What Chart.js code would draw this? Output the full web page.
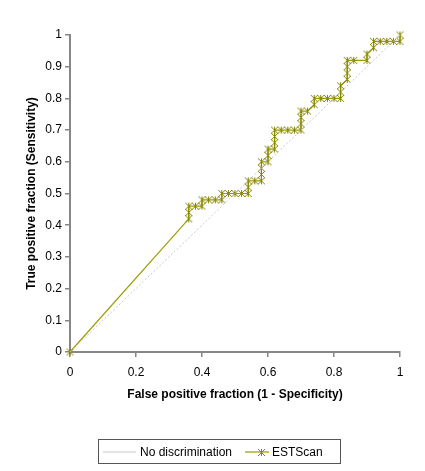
<!DOCTYPE html>
<html>
<head>
<meta charset="utf-8">
<script src="https://cdn.jsdelivr.net/npm/chart.js@4.4.0/dist/chart.umd.min.js"></script>
<style>
  html, body { margin: 0; padding: 0; background: #fff; }
  #wrap { width: 425px; height: 471px; position: relative; }
</style>
</head>
<body>
<div id="wrap"><canvas id="grafico"></canvas></div>
<script>
// ESTScan ROC points (false positive fraction, true positive fraction)
const fprValues = [0,
  0.36, 0.36, 0.36, 0.38, 0.40, 0.40, 0.42, 0.44, 0.46, 0.46,
  0.48, 0.50, 0.52, 0.54, 0.54, 0.54, 0.56, 0.58, 0.58, 0.58, 0.58,
  0.60, 0.60, 0.60, 0.62, 0.62, 0.62, 0.62, 0.64, 0.66, 0.68, 0.70, 0.70, 0.70, 0.70,
  0.72, 0.74, 0.74, 0.76, 0.78, 0.80, 0.82, 0.82, 0.82,
  0.84, 0.84, 0.84, 0.84, 0.86, 0.90, 0.90, 0.92, 0.92,
  0.94, 0.96, 0.98, 1.00, 1.00]
const tprValues = [0,
  0.42, 0.44, 0.46, 0.46, 0.46, 0.48, 0.48, 0.48, 0.48, 0.50,
  0.50, 0.50, 0.50, 0.50, 0.52, 0.54, 0.54, 0.54, 0.56, 0.58, 0.60,
  0.60, 0.62, 0.64, 0.64, 0.66, 0.68, 0.70, 0.70, 0.70, 0.70, 0.70, 0.72, 0.74, 0.76,
  0.76, 0.78, 0.80, 0.80, 0.80, 0.80, 0.80, 0.82, 0.84,
  0.86, 0.88, 0.90, 0.92, 0.92, 0.92, 0.94, 0.96, 0.98,
  0.98, 0.98, 0.98, 0.98, 1.00]

// reference diagonal
const diagX = [0, 1]
const diagY = [0, 1]

const seriesNames = ['No discrimination', 'ESTScan']

const olive = '#9c9c00'
const oliveDark = '#858500'
const diagColor = '#c8c8c8'

// excel style star marker: X with a vertical bar
const star = document.createElement('canvas')
star.width = 9
star.height = 9
const sctx = star.getContext('2d')
sctx.strokeStyle = oliveDark
sctx.lineWidth = 1
sctx.beginPath()
sctx.moveTo(1, 1); sctx.lineTo(8, 8)
sctx.moveTo(8, 1); sctx.lineTo(1, 8)
sctx.moveTo(4.5, 1); sctx.lineTo(4.5, 8)
sctx.stroke()

const toPoints = (xs, ys) => xs.map((x, i) => ({ x: x, y: ys[i] }))
const fmt = v => String(Number(v.toFixed(2)))

const font = "'Liberation Sans', Arial, sans-serif"

const legendBox = {
  id: 'legendBox',
  afterDraw(chart) {
    const ctx = chart.ctx
    ctx.save()
    ctx.strokeStyle = '#555'
    ctx.lineWidth = 1
    ctx.strokeRect(98.5, 439.5, 242, 24)
    const cy = 452
    // No discrimination
    ctx.strokeStyle = diagColor
    ctx.beginPath(); ctx.moveTo(103, cy); ctx.lineTo(136, cy); ctx.stroke()
    ctx.fillStyle = '#000'
    ctx.font = '12px ' + font
    ctx.textBaseline = 'middle'
    ctx.fillText(seriesNames[0], 140, cy + 1)
    // ESTScan
    ctx.strokeStyle = olive
    ctx.lineWidth = 1.2
    ctx.beginPath(); ctx.moveTo(245, cy); ctx.lineTo(269, cy); ctx.stroke()
    ctx.drawImage(star, 257, cy - 4)
    ctx.fillText(seriesNames[1], 272, cy + 1)
    ctx.restore()
  }
}

new Chart(document.getElementById('grafico'), {
  type: 'scatter',
  data: {
    datasets: [
      {
        label: seriesNames[0],
        data: toPoints(diagX, diagY),
        showLine: true,
        borderColor: diagColor,
        borderWidth: 1,
        borderDash: [2, 2],
        pointRadius: 0
      },
      {
        label: seriesNames[1],
        data: toPoints(fprValues, tprValues),
        showLine: true,
        clip: false,
        borderColor: olive,
        borderWidth: 1.2,
        pointStyle: star,
        pointRadius: 4
      }
    ]
  },
  options: {
    responsive: true,
    maintainAspectRatio: false,
    devicePixelRatio: 1,
    animation: false,
    layout: { padding: { top: 35, right: 25, left: 10, bottom: 59 } },
    plugins: {
      legend: { display: false },
      tooltip: { enabled: false }
    },
    scales: {
      x: {
        type: 'linear',
        min: 0,
        max: 1,
        afterFit: s => { s.height = 60 },
        ticks: { stepSize: 0.2, color: '#000', padding: 8, font: { family: font, size: 12 }, callback: fmt },
        grid: { drawOnChartArea: false, color: '#868686', tickLength: 5, lineWidth: 1.5 },
        border: { color: '#868686', width: 2 },
        title: {
          display: true,
          text: 'False positive fraction (1 - Specificity)',
          color: '#000',
          font: { family: font, size: 12, weight: 'bold' },
          padding: { top: 0, bottom: 10 }
        }
      },
      y: {
        type: 'linear',
        min: 0,
        max: 1,
        afterFit: s => { s.width = 60 },
        ticks: { stepSize: 0.1, color: '#000', padding: 3, font: { family: font, size: 12 }, callback: fmt },
        grid: { drawOnChartArea: false, color: '#868686', tickLength: 5, lineWidth: 1.5 },
        border: { color: '#868686', width: 2 },
        title: {
          display: true,
          text: 'True positive fraction (Sensitivity)',
          color: '#000',
          font: { family: font, size: 12, weight: 'bold' },
          padding: { top: 14, bottom: 0 }
        }
      }
    }
  },
  plugins: [legendBox]
})
</script>
</body>
</html>
